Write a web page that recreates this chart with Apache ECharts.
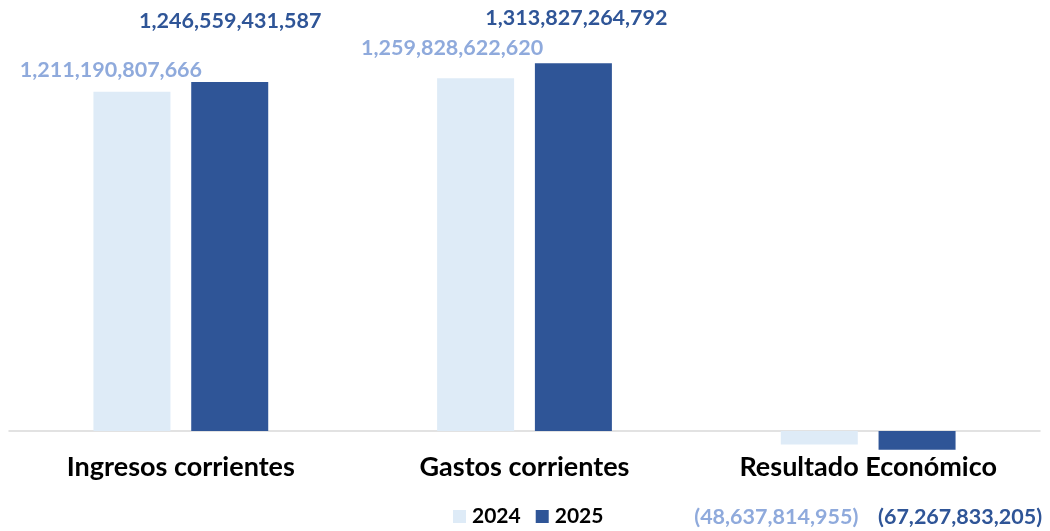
<!DOCTYPE html>
<html>
<head>
<meta charset="utf-8">
<script src="https://cdn.jsdelivr.net/npm/echarts@6/dist/echarts.min.js"></script>
<style>
html,body{margin:0;padding:0;background:#fff;}
#chart{width:1050px;height:531px;}
</style>
</head>
<body>
<div id="chart"></div>
<script>
var categories = ['Ingresos corrientes', 'Gastos corrientes', 'Resultado Económico'];
var seriesNames = ['2024', '2025'];
var values2024 = [1211190807666, 1259828622620, -48637814955];
var values2025 = [1246559431587, 1313827264792, -67267833205];

var FONT = 'Lato';
var barColors = ['#DEEBF7', '#2F5597'];
var labelColors = ['#8FAADC', '#2F5597'];
// label offsets (dx, dy) per bar, mimicking the manually placed labels
var labelOffsets2024 = [[-21, -7], [-23.5, -15], [-43, 57]];
var labelOffsets2025 = [[0.5, -45.5], [3, -30.5], [43, 52]];

function fmt(v) {
  var s = Math.abs(Math.round(v)).toString().replace(/\B(?=(\d{3})+(?!\d))/g, ',');
  return v < 0 ? '(' + s + ')' : s;
}

function buildData(values, offsets, color) {
  return values.map(function (v, i) {
    return {
      value: v,
      label: {
        show: true,
        position: v < 0 ? 'bottom' : 'top',
        distance: 5,
        offset: offsets[i],
        formatter: function (p) { return fmt(p.value); },
        color: color,
        fontFamily: FONT,
        fontWeight: 'bold',
        fontSize: 21.5,
        lineHeight: 20
      }
    };
  });
}

var chart = echarts.init(document.getElementById('chart'), null, {renderer: 'canvas'});
chart.setOption({
  animation: false,
  backgroundColor: '#ffffff',
  grid: {left: 9, right: 10, top: 11, bottom: 80.4, outerBoundsMode: 'none', containLabel: false},
  legend: {
    data: seriesNames,
    left: 453,
    top: 506,
    padding: 0,
    icon: 'rect',
    itemWidth: 13,
    itemHeight: 13,
    itemGap: 15,
    textStyle: {fontFamily: FONT, fontWeight: 'bold', fontSize: 21, color: '#000', padding: [0, 0, 0, 1]}
  },
  xAxis: {
    type: 'category',
    data: categories,
    axisLine: {onZero: true, lineStyle: {color: '#D9D9D9', width: 1.5}},
    axisTick: {show: false},
    axisLabel: {
      fontFamily: FONT, fontWeight: 'bold', fontSize: 27, color: '#000',
      margin: 3, interval: 0
    },
    splitLine: {show: false}
  },
  yAxis: {
    type: 'value',
    min: -0.07e12,
    max: 1.5e12,
    show: false,
    splitLine: {show: false}
  },
  series: [
    {
      name: seriesNames[0], type: 'bar', barWidth: 77, barGap: '27%',
      itemStyle: {color: barColors[0]},
      data: buildData(values2024, labelOffsets2024, labelColors[0])
    },
    {
      name: seriesNames[1], type: 'bar', barWidth: 77, barGap: '27%',
      itemStyle: {color: barColors[1]},
      data: buildData(values2025, labelOffsets2025, labelColors[1])
    }
  ]
});
</script>
</body>
</html>
